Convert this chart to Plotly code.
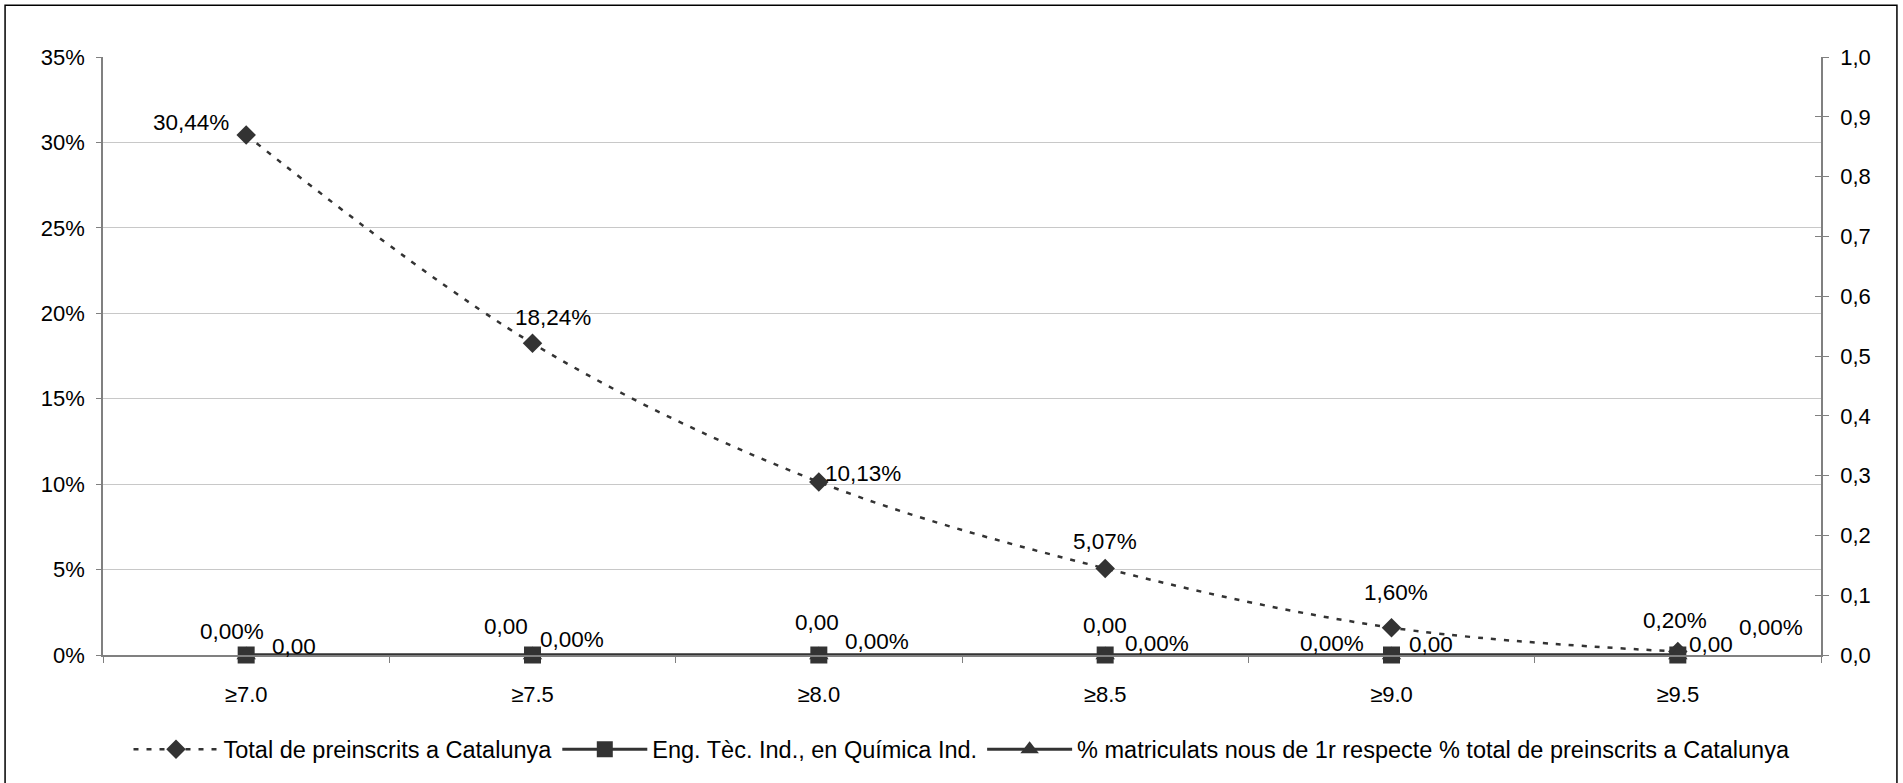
import plotly.graph_objects as go

categories = ["≥7.0", "≥7.5", "≥8.0", "≥8.5", "≥9.0", "≥9.5"]
total_preinscrits = [0.3044, 0.1824, 0.1013, 0.0507, 0.0160, 0.0020]
eng_quimica = [0.0, 0.0, 0.0, 0.0, 0.0, 0.0]
pct_matriculats = [0.0, 0.0, 0.0, 0.0, 0.0, 0.0]

names = [
    "Total de preinscrits a Catalunya",
    "Eng. Tèc. Ind., en Química Ind.",
    "% matriculats nous de 1r respecte % total de preinscrits a Catalunya",
]

# label offsets in px (dx, dy up)
off_total = [(-55, 12), (20, 26), (44, 8), (0, 27), (4, 35), (-3, 31)]
off_eng = [(-14, 24), (39, 16), (58, 14), (52, 12), (-60, 12), (93, 28)]
off_pct = [(48, 9), (-27, 29), (-2, 33), (0, 30), (39, 11), (33, 11)]

FONT = "Liberation Sans, Arial, sans-serif"
FS_TICK = 22
FS_LAB = 22.5
FS_LEG = 23.5
DARK = "#333333"
AXIS = "#808080"

def pct_label(v):
    return f"{v*100:.2f}%".replace(".", ",")

def num_label(v):
    return f"{v:.2f}".replace(".", ",")

fig = go.Figure()
fig.add_trace(go.Scatter(
    x=categories, y=total_preinscrits, name=names[0], mode="lines+markers",
    line=dict(color=DARK, width=2.5, dash="5px,8px", shape="spline", smoothing=1.0),
    marker=dict(symbol="diamond", size=15, color=DARK), cliponaxis=False,
))
fig.add_trace(go.Scatter(
    x=categories, y=eng_quimica, name=names[1], mode="lines+markers",
    line=dict(color=DARK, width=3), marker=dict(symbol="square", size=17, color=DARK),
    cliponaxis=False,
))
fig.add_trace(go.Scatter(
    x=categories, y=pct_matriculats, name=names[2], mode="lines+markers", yaxis="y2",
    line=dict(color=DARK, width=3), marker=dict(symbol="triangle-up", size=17, color=DARK),
    cliponaxis=False,
))
fig.add_trace(go.Scatter(x=[], y=[], yaxis="y3", showlegend=False, hoverinfo="skip"))

annotations = []
for c, v, (dx, dy) in zip(categories, total_preinscrits, off_total):
    annotations.append(dict(x=c, y=v, xref="x", yref="y", text=pct_label(v), showarrow=False,
                            xshift=dx, yshift=dy, font=dict(family=FONT, size=FS_LAB, color="#000")))
for c, v, (dx, dy) in zip(categories, eng_quimica, off_eng):
    annotations.append(dict(x=c, y=v, xref="x", yref="y", text=pct_label(v), showarrow=False,
                            xshift=dx, yshift=dy, font=dict(family=FONT, size=FS_LAB, color="#000")))
for c, v, (dx, dy) in zip(categories, pct_matriculats, off_pct):
    annotations.append(dict(x=c, y=v, xref="x", yref="y2", text=num_label(v), showarrow=False,
                            xshift=dx, yshift=dy, font=dict(family=FONT, size=FS_LAB, color="#000")))

fig.update_layout(
    width=1903, height=783,
    margin=dict(l=103, r=82, t=57, b=126),
    paper_bgcolor="white", plot_bgcolor="white",
    separators=",.",
    font=dict(family=FONT, size=FS_TICK, color="#000"),
    showlegend=True,
    legend=dict(orientation="h", x=0.5, xanchor="center", y=-0.158, yanchor="middle",
                itemwidth=85, font=dict(family=FONT, size=FS_LEG, color="#000"),
                traceorder="normal"),
    xaxis=dict(type="category", range=[-0.5, len(categories) - 0.5], showline=True,
               linecolor=AXIS, linewidth=1.5,
               ticks="outside", tickson="boundaries", ticklen=6, tickcolor=AXIS,
               showgrid=False, zeroline=False, ticklabelstandoff=19),
    yaxis=dict(range=[0, 0.35], dtick=0.05, tickformat=".0%", showline=True,
               linecolor=AXIS, linewidth=1.5, ticks="outside", ticklen=5, tickcolor=AXIS,
               gridcolor="#c8c8c8", gridwidth=1, zeroline=False, ticklabelstandoff=7),
    yaxis2=dict(range=[0, 1.0], dtick=0.1, tickformat=".1f", overlaying="y", side="right",
                showline=True, linecolor=AXIS, linewidth=1.5, ticks="outside", ticklen=6,
                tickcolor=AXIS, showgrid=False, zeroline=False, ticklabelstandoff=7),
    yaxis3=dict(range=[0, 1.0], dtick=0.1, overlaying="y", side="right", showline=False,
                ticks="inside", ticklen=6, tickcolor=AXIS, showticklabels=False,
                showgrid=False, zeroline=False),
    annotations=annotations,
    shapes=[dict(type="rect", xref="paper", yref="paper", x0=-0.0570, x1=1.0442,
                 y0=-0.25, y1=1.0867, line=dict(color="#000", width=1.5), layer="below")],
)

fig.write_html("out.html", config={"displayModeBar": False},
               post_script="document.body.style.margin='0';document.body.style.overflow='hidden';")
